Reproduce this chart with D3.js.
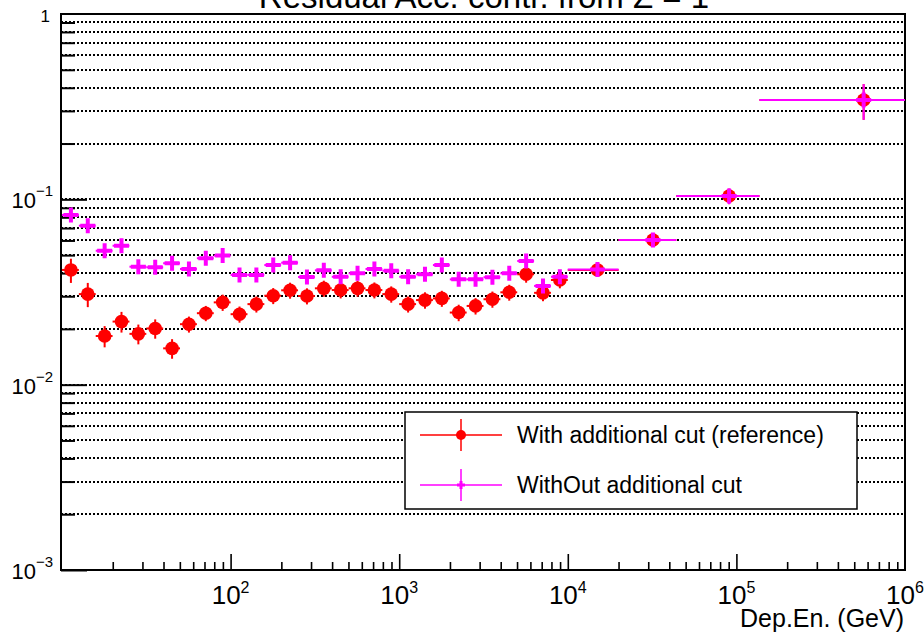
<!DOCTYPE html>
<html>
<head>
<meta charset="utf-8">
<script src="https://cdn.jsdelivr.net/npm/d3@7"></script>
<style>
  html, body { margin: 0; padding: 0; background: #fff; }
  svg { display: block; font-family: "Liberation Sans", Arial, Helvetica, sans-serif; }
</style>
</head>
<body>
<svg id="chart" width="924" height="635"></svg>
<script>
// Deposited-energy bin edges (GeV)
const binEdges = [10, 12.59, 15.85, 19.95, 25.12, 31.62, 39.81, 50.12, 63.10, 79.43,
  100, 125.9, 158.5, 199.5, 251.2, 316.2, 398.1, 501.2, 631.0, 794.3,
  1000, 1259, 1585, 1995, 2512, 3162, 3981, 5012, 6310, 7943,
  10000, 20000, 44000, 137000, 1000000];

// Residual acceptance contribution, with the additional cut
const withCut = [0.0416, 0.0308, 0.0183, 0.0219, 0.0188, 0.0201, 0.0157, 0.0212, 0.0243, 0.0278,
  0.0240, 0.0272, 0.0302, 0.0323, 0.0301, 0.0331, 0.0324, 0.0331, 0.0324, 0.0308,
  0.0272, 0.0286, 0.0292, 0.0245, 0.0266, 0.0289, 0.0315, 0.0394, 0.0313, 0.0367,
  0.0416, 0.0603, 0.1042, 0.3435];
const withCutErr = [0.0062, 0.0046, 0.0024, 0.0028, 0.0023, 0.0024, 0.0019, 0.0021, 0.0023, 0.0028,
  0.0024, 0.0027, 0.0030, 0.0032, 0.0030, 0.0033, 0.0032, 0.0033, 0.0032, 0.0031,
  0.0027, 0.0029, 0.0029, 0.0025, 0.0027, 0.0029, 0.0031, 0.0039, 0.0031, 0.0036,
  0.0030, 0.0042, 0.0100, 0.0750];

// Residual acceptance contribution, without the additional cut
const withoutCut = [0.0823, 0.0721, 0.0528, 0.0562, 0.0433, 0.0430, 0.0452, 0.0421, 0.0481, 0.0497,
  0.0391, 0.0391, 0.0442, 0.0455, 0.0381, 0.0414, 0.0382, 0.0399, 0.0421, 0.0412,
  0.0382, 0.0394, 0.0442, 0.0370, 0.0370, 0.0380, 0.0399, 0.0465, 0.0341, 0.0382,
  0.0418, 0.0603, 0.1042, 0.3435];
const withoutCutErr = [0.0045, 0.0040, 0.0030, 0.0032, 0.0025, 0.0025, 0.0026, 0.0024, 0.0028, 0.0028,
  0.0023, 0.0023, 0.0025, 0.0026, 0.0022, 0.0024, 0.0022, 0.0023, 0.0024, 0.0024,
  0.0022, 0.0023, 0.0025, 0.0021, 0.0021, 0.0022, 0.0023, 0.0027, 0.0020, 0.0022,
  0.0030, 0.0042, 0.0100, 0.0750];

const xMajorTicks = [1e2, 1e3, 1e4, 1e5, 1e6];
const xMajorExp = ["2", "3", "4", "5", "6"];
const yMajorTicks = [1e-3, 1e-2, 1e-1];
const yMajorExp = ["\u22123", "\u22122", "\u22121"];
const legendLabels = ["With additional cut (reference)", "WithOut additional cut"];
const titleText = "Residual Acc. contr. from Z = 1";
const xTitleText = "Dep.En. (GeV)";

const RED = "#ff0000", MAGENTA = "#ff00ff";
const svg = d3.select("#chart");
const frame = { left: 61, right: 905, top: 14, bottom: 570 };

const x = d3.scaleLog().domain([10, 1e6]).range([62, 905]);
const y = d3.scaleLog().domain([1e-3, 1]).range([570, 14]);

// Rows of points: one per energy bin
function makeRows(vals, errs) {
  return vals.map((v, i) => ({
    lo: binEdges[i], hi: binEdges[i + 1],
    c: (binEdges[i] + binEdges[i + 1]) / 2,
    v, e: errs[i]
  }));
}
const rowsCut = makeRows(withCut, withCutErr);
const rowsNoCut = makeRows(withoutCut, withoutCutErr);

// Title (sits partly above the canvas)
svg.append("text").attr("x", 484).attr("y", 8).attr("text-anchor", "middle")
  .attr("font-size", 33).attr("fill", "#000").text(titleText);

// Horizontal dotted grid at every y tick, snapped to whole pixels for crisp dots
const yAll = y.ticks().filter(v => v > 1e-3 * 1.001 && v < 0.999);
svg.append("g").selectAll("line").data(yAll).join("line")
  .attr("x1", frame.left).attr("x2", frame.right)
  .attr("y1", d => Math.round(y(d))).attr("y2", d => Math.round(y(d)))
  .attr("stroke", "#000").attr("stroke-width", 2)
  .attr("stroke-dasharray", "2,2").attr("shape-rendering", "crispEdges");

// y axis ticks (inward)
const yMinor = yAll.filter(v => !yMajorTicks.some(m => Math.abs(m - v) / m < 1e-6));
const yMinorAxis = svg.append("g").attr("transform", `translate(${frame.left},0)`)
  .call(d3.axisRight(y).tickValues(yMinor).tickSize(14).tickFormat(""));
const yMajorAxis = svg.append("g").attr("transform", `translate(${frame.left},0)`)
  .call(d3.axisRight(y).tickValues(yMajorTicks).tickSize(26).tickFormat(""));
[yMinorAxis, yMajorAxis].forEach(g => {
  g.select(".domain").remove();
  g.selectAll("line").attr("stroke", "#000").attr("stroke-width", 2);
});

// x axis ticks (inward)
const xAll = x.ticks().filter(v => v > 10.5 && v < 0.999e6);
const xMinor = xAll.filter(v => !xMajorTicks.some(m => Math.abs(m - v) / m < 1e-6));
const xMinorAxis = svg.append("g").attr("transform", `translate(0,${frame.bottom})`)
  .call(d3.axisTop(x).tickValues(xMinor).tickSize(8).tickFormat(""));
const xMajorAxis = svg.append("g").attr("transform", `translate(0,${frame.bottom})`)
  .call(d3.axisTop(x).tickValues(xMajorTicks.slice(0, 4)).tickSize(16).tickFormat(""));
[xMinorAxis, xMajorAxis].forEach(g => {
  g.select(".domain").remove();
  g.selectAll("line").attr("stroke", "#000").attr("stroke-width", 1.6);
});

// Frame
svg.append("rect").attr("x", frame.left).attr("y", frame.top)
  .attr("width", frame.right - frame.left).attr("height", frame.bottom - frame.top)
  .attr("fill", "none").attr("stroke", "#000").attr("stroke-width", 2);

// y labels
svg.append("text").attr("x", 50).attr("y", y(1) + 8).attr("text-anchor", "end")
  .attr("font-size", 17).text("1");
yMajorTicks.forEach((v, i) => {
  const t = svg.append("text").attr("x", 53).attr("y", y(v) + 9)
    .attr("text-anchor", "end").attr("font-size", 22);
  t.append("tspan").text("10");
  t.append("tspan").attr("dy", -12).attr("font-size", 15).text(yMajorExp[i]);
});

// x labels
xMajorTicks.forEach((v, i) => {
  const t = svg.append("text").attr("x", x(v)).attr("y", 604)
    .attr("text-anchor", "middle").attr("font-size", 26);
  t.append("tspan").text("10");
  t.append("tspan").attr("dy", -11).attr("font-size", 16).text(xMajorExp[i]);
});
svg.append("text").attr("x", 904).attr("y", 627).attr("text-anchor", "end")
  .attr("font-size", 25).text(xTitleText);

// Data layer clipped to the frame
svg.append("clipPath").attr("id", "plotclip").append("rect")
  .attr("x", frame.left).attr("y", frame.top)
  .attr("width", frame.right - frame.left).attr("height", frame.bottom - frame.top);
const plot = svg.append("g").attr("clip-path", "url(#plotclip)");

function drawErrors(rows, color) {
  const g = plot.append("g").attr("stroke", color).attr("stroke-width", 2);
  g.selectAll("line.h").data(rows).join("line").attr("class", "h")
    .attr("x1", d => x(d.lo)).attr("x2", d => x(d.hi))
    .attr("y1", d => y(d.v)).attr("y2", d => y(d.v));
  g.selectAll("line.v").data(rows).join("line").attr("class", "v")
    .attr("x1", d => x(d.c)).attr("x2", d => x(d.c))
    .attr("y1", d => y(d.v + d.e)).attr("y2", d => y(d.v - d.e));
}

// With cut: red filled circles
drawErrors(rowsCut, RED);
plot.append("g").selectAll("circle").data(rowsCut).join("circle")
  .attr("cx", d => x(d.c)).attr("cy", d => y(d.v)).attr("r", 6.8).attr("fill", RED);

// Without cut: magenta crosses
drawErrors(rowsNoCut, MAGENTA);
plot.append("g").selectAll("path").data(rowsNoCut).join("path")
  .attr("transform", d => `translate(${x(d.c)},${y(d.v)})`)
  .attr("d", "M-7.5,0H7.5M0,-7.5V7.5")
  .attr("stroke", MAGENTA).attr("stroke-width", 4).attr("fill", "none");

// Legend
const lg = svg.append("g");
lg.append("rect").attr("x", 405).attr("y", 412).attr("width", 452).attr("height", 97)
  .attr("fill", "#fff").attr("stroke", "#000").attr("stroke-width", 1.5);
const entries = [
  { label: legendLabels[0], color: RED, cy: 435, marker: "circle" },
  { label: legendLabels[1], color: MAGENTA, cy: 485, marker: "cross" }
];
entries.forEach(en => {
  lg.append("line").attr("x1", 420).attr("x2", 502).attr("y1", en.cy).attr("y2", en.cy)
    .attr("stroke", en.color).attr("stroke-width", 1.5);
  lg.append("line").attr("x1", 461).attr("x2", 461).attr("y1", en.cy - 16).attr("y2", en.cy + 16)
    .attr("stroke", en.color).attr("stroke-width", 1.5);
  if (en.marker === "circle") {
    lg.append("circle").attr("cx", 461).attr("cy", en.cy).attr("r", 5).attr("fill", en.color);
  } else {
    lg.append("path").attr("transform", `translate(461,${en.cy})`)
      .attr("d", "M-4,0H4M0,-4V4").attr("stroke", en.color).attr("stroke-width", 3);
  }
  lg.append("text").attr("x", 517).attr("y", en.cy + 7.5).attr("font-size", 23)
    .attr("fill", "#000").text(en.label);
});
</script>
</body>
</html>
